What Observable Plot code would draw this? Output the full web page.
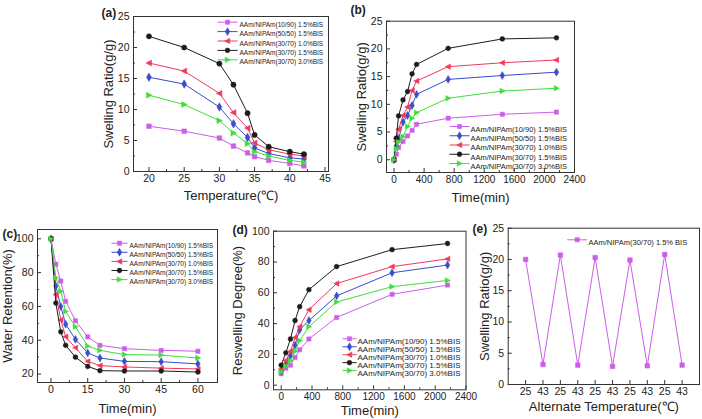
<!DOCTYPE html>
<html><head><meta charset="utf-8">
<script src="https://cdn.jsdelivr.net/npm/d3@7"></script>
<script src="https://cdn.jsdelivr.net/npm/@observablehq/plot@0.6"></script>
<style>
body{margin:0;background:#fff;}
#fig{position:relative;width:702px;height:419px;overflow:hidden;background:#fff;}
#fig>div{position:absolute;}
</style></head>
<body><div id="fig"></div>
<script>
// ---------- data ----------
const seriesNames = ["AAm/NIPAm(10/90) 1.5%BIS","AAm/NIPAm(50/50) 1.5%BIS","AAm/NIPAm(30/70) 1.0%BIS","AAm/NIPAm(30/70) 1.5%BIS","AAm/NIPAm(30/70) 3.0%BIS"];

// (a) swelling ratio vs temperature
const tempA = [20,25,30,32,34,35,37,40,42];
const swellA_10_90 = [7.3,6.5,5.4,4.1,3.0,2.4,1.8,1.3,0.9];
const swellA_50_50 = [15.2,14.1,10.4,7.7,5.5,3.8,2.9,2.2,2.0];
const swellA_30_70_10 = [17.5,16.2,12.6,9.5,7.0,4.6,3.5,2.8,2.5];
const swellA_30_70_15 = [21.8,20.0,17.4,14.0,9.4,5.9,4.0,3.2,2.8];
const swellA_30_70_30 = [12.3,10.8,8.2,6.2,4.5,3.2,2.5,1.8,1.5];

// (b) swelling ratio vs time
const timeB = [0,30,60,120,180,240,300,720,1440,2160];
const swellB_10_90 = [0,1.0,2.2,3.3,4.3,5.3,6.4,7.5,8.2,8.6];
const swellB_50_50 = [0,2.5,3.8,6.8,8.0,9.8,11.8,14.5,15.2,15.8];
const swellB_30_70_10 = [0,3.3,5.5,8.0,9.5,12.5,14.2,16.8,17.5,18.0];
const swellB_30_70_15 = [0,3.9,7.9,10.8,12.3,15.5,17.2,20.1,21.8,22.0];
const swellB_30_70_30 = [0,2.0,3.2,4.2,6.0,7.5,8.5,11.1,12.4,12.9];

// (c) water retention vs time
const timeC = [0,2,4,6,10,15,20,30,45,60];
const retC_10_90 = [100,85,75,63,51.5,42,37,35,34,33.5];
const retC_50_50 = [100,72,60,49.5,40.5,32.5,29.5,27.5,27.3,26];
const retC_30_70_10 = [100,67,52,42,35.5,27.5,25,24.2,23.5,23];
const retC_30_70_15 = [100,62,45,37,30,24.5,22,21.8,21.8,21.2];
const retC_30_70_30 = [100,77,69,57,48,36.5,34,31.5,31.2,29.5];

// (d) reswelling degree vs time
const timeD = [0,60,120,180,240,360,720,1440,2160];
const resD_10_90 = [7.5,11,13,18,23,30,44,59,65];
const resD_50_50 = [9,14,19,26,36,42,58,73,78];
const resD_30_70_10 = [10.5,16,22,31,38,49,66,77,82];
const resD_30_70_15 = [13,21,30,42,51,62,77,88,92];
const resD_30_70_30 = [8.5,12.5,16,22,29,38,54,64,68];

// (e) alternate temperature cycling
const cycleLabels = ["25","43","25","43","25","43","25","43","25","43"];
const cycleIndex = [1,2,3,4,5,6,7,8,9,10];
const cycleSwell = [20.0,3.2,20.7,3.1,20.3,2.9,19.9,3.0,20.8,3.1];
const cycleName = "AAm/NIPAm(30/70) 1.5% BIS";

// ---------- styles ----------
const colors = ["#cc5ee8","#3b4ccc","#f2385c","#1c1c1c","#3fde3a"];
const triLeft = {draw(c,size){const r=Math.sqrt(size/Math.PI)*1.2;c.moveTo(-r,0);c.lineTo(r*0.8,-r*0.95);c.lineTo(r*0.8,r*0.95);c.closePath();}};
const triRight = {draw(c,size){const r=Math.sqrt(size/Math.PI)*1.2;c.moveTo(r,0);c.lineTo(-r*0.8,-r*0.95);c.lineTo(-r*0.8,r*0.95);c.closePath();}};
const dash = (len) => ({draw(c){c.moveTo(-len/2,0);c.lineTo(len/2,0);}});
const symbols = ["square","diamond",triLeft,"circle",triRight];
const FONT = "Arial, 'Liberation Sans', sans-serif";
const INK = "#222";
const plain = (d) => String(d);

function makeSeries(xs, ys) {
  return ys.map((vals,i)=>({name: seriesNames[i], color: colors[i], symbol: symbols[i], xs, vals}));
}

function seriesMarks(series, r=2.6) {
  return series.flatMap(s => [
    Plot.line(s.vals, {x: s.xs, y: d=>d, stroke: s.color, strokeWidth: 1}),
    Plot.dot(s.vals, {x: s.xs, y: d=>d, symbol: s.symbol, fill: s.color, stroke: s.color, strokeWidth: 0.5, r})
  ]);
}

function legendMarks(series, {dxSw, dxText, dy0, step, fontSize, swLen=20, r=2.4}) {
  return series.flatMap((s,i) => [
    Plot.dot([s], {frameAnchor:"top-left", dx: dxSw, dy: dy0+i*step, symbol: dash(swLen), stroke: s.color, fill:"none", strokeWidth: 1, r: 3}),
    Plot.dot([s], {frameAnchor:"top-left", dx: dxSw, dy: dy0+i*step, symbol: s.symbol, fill: s.color, stroke: s.color, strokeWidth: 0.5, r}),
    Plot.text([s.name], {frameAnchor:"top-left", dx: dxText, dy: dy0+i*step, textAnchor:"start", fontSize, fill: INK, fontFamily: FONT})
  ]);
}

function panel(p) {
  const div = document.createElement("div");
  div.style.left = p.left+"px"; div.style.top = p.top+"px";
  const marks = [
    Plot.frame({stroke:"#333", strokeWidth:1}),
    // inward major ticks
    Plot.axisX(p.xTicks, {tickSize: 4, dy: -4, fill:"none", stroke:"#333"}),
    Plot.axisY(p.yTicks, {tickSize: 4, dx: 4, fill:"none", stroke:"#333"}),
    // minor ticks
    ...(p.xMinor ? [Plot.axisX(p.xMinor, {tickSize: 2, dy: -2, fill:"none", stroke:"#333"})] : []),
    ...(p.yMinor ? [Plot.axisY(p.yMinor, {tickSize: 2, dx: 2, fill:"none", stroke:"#333"})] : []),
    // tick labels
    Plot.axisX(p.xTicks, {tickSize: 0, tickPadding: p.xPad ?? 3, fontSize: p.xTickFont ?? 10.5, fill: INK, label: null, tickFormat: p.xTickFormat ?? plain}),
    Plot.axisY(p.yTicks, {tickSize: 0, tickPadding: p.yPad ?? 4, fontSize: p.yTickFont ?? 10.5, fill: INK, label: null, tickFormat: plain}),
    // axis titles
    Plot.text([p.xLabel], {frameAnchor:"bottom", dy: p.xLabelDy, lineAnchor:"middle", fontSize: 13, fill: INK, fontFamily: FONT}),
    Plot.text([p.yLabel], {frameAnchor:"left", dx: p.yLabelDx, rotate: -90, lineAnchor:"top", textAnchor:"middle", fontSize: 13, fill: INK, fontFamily: FONT}),
    // panel tag
    Plot.text([p.tag], {frameAnchor:"top-left", dx: p.tagDx, dy: p.tagDy, textAnchor:"start", fontWeight:"bold", fontSize: 12, fill: INK, fontFamily: FONT}),
    ...p.marks
  ];
  const chart = Plot.plot({
    width: p.width, height: p.height,
    marginLeft: p.m[0], marginRight: p.m[1], marginTop: p.m[2], marginBottom: p.m[3],
    style: {background:"transparent", fontFamily: FONT, color: INK, overflow: "visible"},
    x: {domain: p.xDomain},
    y: {domain: p.yDomain},
    marks
  });
  div.appendChild(chart);
  document.getElementById("fig").appendChild(div);
}

const range = (a,b,s) => d3.range(a, b+s/2, s);

// (a)
const seriesA = makeSeries(tempA, [swellA_10_90, swellA_50_50, swellA_30_70_10, swellA_30_70_15, swellA_30_70_30]);
panel({left:0, top:0, width:345, height:210, m:[133,17,16,39],
  xDomain:[17.8,45.5], yDomain:[0,25],
  xTicks: range(20,45,5), xMinor: range(22.5,42.5,5), yTicks: range(0,25,5), yMinor: range(2.5,22.5,5),
  xLabel:"Temperature(℃)", xLabelDy: 24, yLabel:"Swelling Ratio(g/g)", yLabelDx: -30,
  tag:"(a)", tagDx:-32, tagDy:-8,
  marks:[...seriesMarks(seriesA), ...legendMarks(seriesA, {dxSw:94, dxText:106, dy0:5.7, step:9.4, fontSize:6.5})]
});

// (b)
const seriesB = makeSeries(timeB, [swellB_10_90, swellB_50_50, swellB_30_70_10, swellB_30_70_15, swellB_30_70_30]);
panel({left:345, top:0, width:357, height:210, m:[41,128,20.7,38],
  xDomain:[-100,2400], yDomain:[-2.3,25],
  xTicks: range(0,2400,400), xMinor: range(200,2200,400), yTicks: range(0,25,5), yMinor: range(2.5,22.5,5),
  xTickFont: 10,
  xLabel:"Time(min)", xLabelDy: 25, yLabel:"Swelling Ratio(g/g)", yLabelDx: -30,
  tag:"(b)", tagDx:-36, tagDy:-15.7,
  marks:[...seriesMarks(seriesB, 2.4), ...legendMarks(seriesB, {dxSw:73, dxText:84, dy0:105.3, step:9.25, fontSize:7.5})]
});

// (c)
const seriesC = makeSeries(timeC, [retC_10_90, retC_50_50, retC_30_70_10, retC_30_70_15, retC_30_70_30]);
panel({left:0, top:210, width:230, height:209, m:[37,13,19,37],
  xDomain:[-5.5,68], yDomain:[15,105.5],
  xTicks: range(0,60,15), xMinor: range(7.5,52.5,15), yTicks: range(20,100,20), yMinor: range(30,90,20),
  xLabel:"Time(min)", xLabelDy: 26, yLabel:"Water Retention(%)", yLabelDx: -35,
  tag:"(c)", tagDx:-35, tagDy:0.3,
  marks:[...seriesMarks(seriesC, 2.4), ...legendMarks(seriesC, {dxSw:82, dxText:92, dy0:13.7, step:9.1, fontSize:6.5, swLen:16})]
});

// (d)
const seriesD = makeSeries(timeD, [resD_10_90, resD_50_50, resD_30_70_10, resD_30_70_15, resD_30_70_30]);
panel({left:230, top:210, width:240, height:209, m:[43,4.5,20.7,29.7],
  xDomain:[-100,2400], yDomain:[-3,100],
  xTicks: range(0,2400,400), xMinor: range(200,2200,400), yTicks: range(0,100,20), yMinor: range(10,90,20),
  xTickFont: 10,
  xLabel:"Time(min)", xLabelDy: 21.4, yLabel:"Reswelling Degree(%)", yLabelDx: -41,
  tag:"(d)", tagDx:-41, tagDy:-5.7,
  marks:[...seriesMarks(seriesD, 2.4), ...legendMarks(seriesD, {dxSw:76, dxText:84, dy0:107.6, step:7.95, fontSize:8, swLen:14})]
});

// (e)
const seriesE = [{name: cycleName, color: colors[0], symbol: "square", xs: cycleIndex, vals: cycleSwell}];
panel({left:470, top:210, width:232, height:209, m:[37.7,3,17.7,35],
  xDomain:[0,11], yDomain:[0,25],
  xTicks: cycleIndex, xTickFormat: (d)=>cycleLabels[d-1], yTicks: range(0,25,5), yMinor: range(2.5,22.5,5),
  xLabel:"Alternate Temperature(℃)", xLabelDy: 22.7, yLabel:"Swelling Ratio(g/g)", yLabelDx: -28,
  tag:"(e)", tagDx:-35.7, tagDy:-3.4,
  marks:[...seriesMarks(seriesE, 2.6), ...legendMarks(seriesE, {dxSw:69, dxText:80.3, dy0:11.6, step:9, fontSize:7.5})]
});
</script>
</body></html>
